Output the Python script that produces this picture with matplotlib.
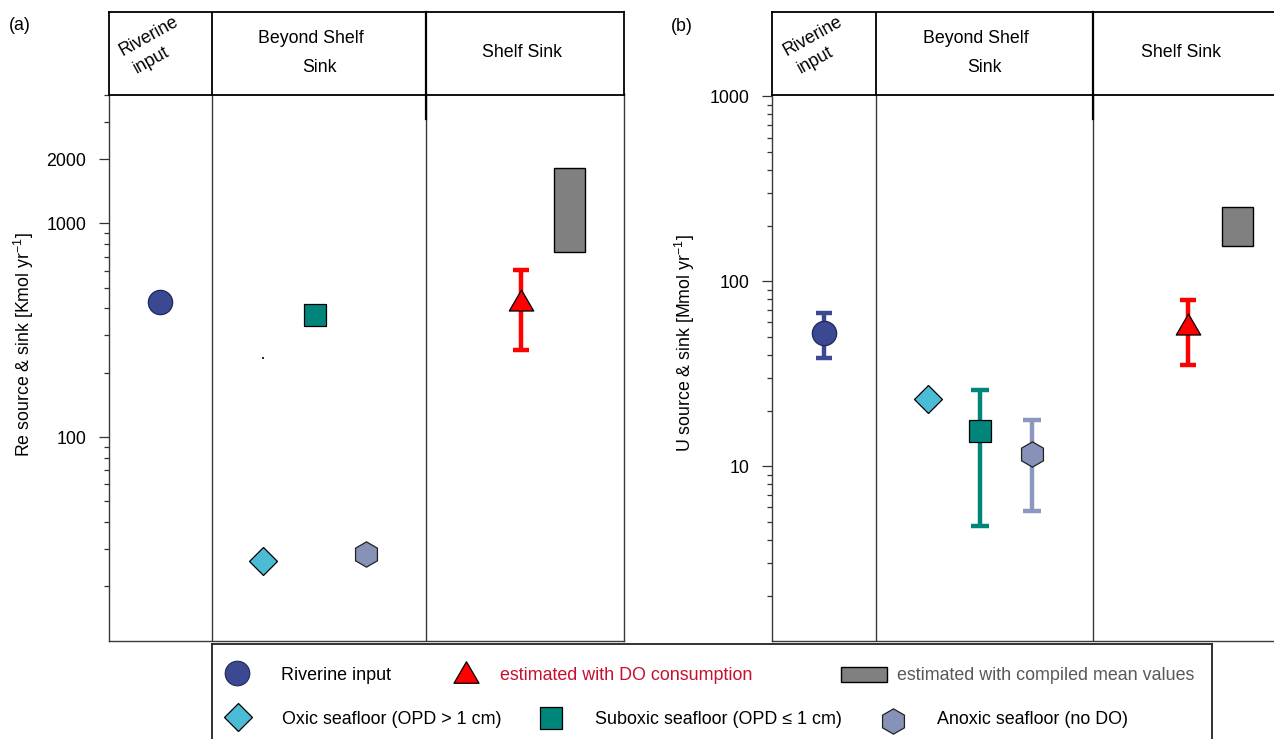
import numpy as np
import matplotlib
matplotlib.use("Agg")
import matplotlib.pyplot as plt
from matplotlib.path import Path
from matplotlib.patches import Rectangle
from matplotlib.ticker import FixedLocator, LogLocator, FuncFormatter, NullFormatter

plt.rcParams['font.family'] = ['Liberation Sans', 'DejaVu Sans']
plt.rcParams['mathtext.default'] = 'regular'
plt.rcParams['font.size'] = 12.8

# ---------------- data ----------------
column_titles = ["Riverine", "input", "Beyond Shelf", "Sink", "Shelf Sink"]
series_names = ["Riverine input", "Oxic seafloor (OPD > 1 cm)",
                "Suboxic seafloor (OPD \u2264 1 cm)", "Anoxic seafloor (no DO)"]
do_name = "estimated with DO consumption"
mean_name = "estimated with compiled mean values"

# Re budget, Kmol/yr (riverine, oxic, suboxic, anoxic)
re_points = [430, 26.2, 372, 28.2]
re_ranges = [None, None, None, None]
re_do = 440
re_do_range = [255, 604]
re_mean_range = [734, 1817]
re_oxic_trace = [231, 238]
re_major_ticks = [10, 100, 1000, 2000]
re_ylim = [11.15, 4015]

# U budget, Mmol/yr (riverine, oxic, suboxic, anoxic)
u_points = [52.9, 23.0, 15.5, 11.7]
u_ranges = [[38.3, 67.6], None, [4.75, 26.0], [5.71, 17.7]]
u_do = 59.2
u_do_range = [35.2, 79.1]
u_mean_range = [155, 252]
u_major_ticks = [1, 10, 100, 1000]
u_ylim = [1.143, 1025]

# ---------------- styling ----------------
point_x = [1, 3, 4, 5]
do_x = 8
mean_x = 8.95
mean_width = 0.6
dividers = [2, 6.17]

colors = ['#3b4993', '#4bbcd5', '#00857b', '#8792b8']
err_colors = ['#3b4993', None, '#00857b', '#8c97c0']
edge_colors = ['#1f2758', 'black', 'black', '#222222']
markers = ['o', 'D', 's', 'h']
sizes = [17.5, 14.5, 15.8, 18.2]
capsizes = [5.5, 0, 6.5, 6.5]
red = '#ff0000'
crimson = '#c8102e'
grey_fill = '#808080'
tri = Path([(0, 0.43), (-0.5, -0.43), (0.5, -0.43), (0, 0.43)],
           [Path.MOVETO, Path.LINETO, Path.LINETO, Path.CLOSEPOLY])

W, H = 1274, 739
fig = plt.figure(figsize=(W / 100, H / 100), dpi=100)

data_bottom = (H - 640.5) / H
data_top = (H - 94.5) / H
head_top = (H - 11.7) / H


def make_panel(left_px, width_px):
    ax = fig.add_axes([left_px / W, data_bottom, width_px / W, data_top - data_bottom])
    hd = fig.add_axes([left_px / W, data_top, width_px / W, head_top - data_top])
    return ax, hd


def draw_panel(ax, hd, points, ranges, do_val, do_range, mean_range,
               ylim, major_ticks, ylabel, label_xy, shelf_title_x):
    ax.set_yscale('log')
    ax.set_xlim(0, 10)
    ax.set_ylim(*ylim)
    ax.set_xticks([])
    ax.yaxis.set_major_locator(FixedLocator(major_ticks))
    ax.yaxis.set_major_formatter(FuncFormatter(lambda v, p: f"{v:g}"))
    ax.yaxis.set_minor_locator(LogLocator(base=10, subs=np.arange(2, 10)))
    ax.yaxis.set_minor_formatter(NullFormatter())
    ax.tick_params(axis='y', which='major', direction='out', length=7,
                   width=0.9, pad=9, labelsize=12.8, color='#333333')
    ax.tick_params(axis='y', which='minor', direction='out', length=3.5,
                   width=0.9, color='#333333')
    for s in ax.spines.values():
        s.set_color('#3a3a3a')
        s.set_linewidth(1.0)
    for d in dividers:
        ax.axvline(d, color='#3a3a3a', lw=1.0, zorder=1)

    ax.set_ylabel(ylabel, fontsize=12.8)
    ax.yaxis.set_label_coords(*label_xy)
    ax.yaxis.label.set_verticalalignment('center')

    for i in range(len(points)):
        if ranges[i] is not None:
            lo, hi = ranges[i]
            ax.errorbar(point_x[i], points[i],
                        yerr=[[points[i] - lo], [hi - points[i]]],
                        fmt='none', ecolor=err_colors[i], elinewidth=3.2,
                        capsize=capsizes[i], capthick=3.2, zorder=2)
        ax.plot(point_x[i], points[i], marker=markers[i], ms=sizes[i],
                mfc=colors[i], mec=edge_colors[i], mew=0.9, ls='none', zorder=3)

    lo, hi = do_range
    ax.errorbar(do_x, do_val, yerr=[[do_val - lo], [hi - do_val]], fmt='none',
                ecolor=red, elinewidth=3.2, capsize=5.5, capthick=3.2, zorder=2)
    ax.plot(do_x, do_val, marker=tri, ms=17.6, mfc=red, mec='black',
            mew=0.9, ls='none', zorder=3)

    ax.bar(mean_x, mean_range[1] - mean_range[0], bottom=mean_range[0],
           width=mean_width, color=grey_fill, edgecolor='black', lw=1.0, zorder=3)

    # header row
    hd.set_xlim(0, 10)
    hd.set_ylim(0, 1)
    hd.set_xticks([])
    hd.set_yticks([])
    for s in hd.spines.values():
        s.set_color('black')
        s.set_linewidth(1.3)
    hd.plot([dividers[0], dividers[0]], [0, 1], color='black', lw=1.3)
    hd.plot([dividers[1], dividers[1]], [-0.3, 1], color='black', lw=1.6,
            clip_on=False, zorder=5)
    hd.text(0.79, 0.70, column_titles[0], rotation=29, ha='center', va='center',
            fontsize=12.8)
    hd.text(0.83, 0.415, column_titles[1], rotation=29, ha='center', va='center',
            fontsize=12.8)
    hd.text(3.93, 0.682, column_titles[2], ha='center', va='center', fontsize=12.8)
    hd.text(4.09, 0.33, column_titles[3], ha='center', va='center', fontsize=12.8)
    hd.text(shelf_title_x, 0.512, column_titles[4], ha='center', va='center',
            fontsize=12.8)


ax_a, hd_a = make_panel(108.5, 515)
draw_panel(ax_a, hd_a, re_points, re_ranges, re_do, re_do_range, re_mean_range,
           re_ylim, re_major_ticks, 'Re source & sink [Kmol yr$^{-1}$]',
           (-0.164, 0.541), 8.03)
ax_a.vlines(point_x[1], re_oxic_trace[0], re_oxic_trace[1], color='black', lw=1.2)

ax_b, hd_b = make_panel(772, 520)
draw_panel(ax_b, hd_b, u_points, u_ranges, u_do, u_do_range, u_mean_range,
           u_ylim, u_major_ticks, 'U source & sink [Mmol yr$^{-1}$]',
           (-0.167, 0.545), 7.87)

fig.text(20 / W, (H - 26) / H, '(a)', ha='center', va='center', fontsize=12.8)
fig.text(682 / W, (H - 26.5) / H, '(b)', ha='center', va='center', fontsize=12.8)

# ---------------- legend box ----------------
leg_bottom = -0.05
leg = fig.add_axes([212 / W, leg_bottom, 1000 / W, (H - 644) / H - leg_bottom])
leg.set_xlim(212, 1212)
leg.set_ylim(H - leg_bottom * H, 644)
leg.set_xticks([])
leg.set_yticks([])
for s in leg.spines.values():
    s.set_color('#222222')
    s.set_linewidth(1.3)

leg.plot(236.5, 673, marker='o', ms=17.7, mfc=colors[0], mec=edge_colors[0], mew=0.8)
leg.text(281, 675, series_names[0], va='center', ha='left', fontsize=12.9)
leg.plot(466, 671.5, marker=tri, ms=18, mfc=red, mec='black', mew=0.9)
leg.text(500, 675, do_name, va='center', ha='left', fontsize=12.9, color=crimson)
leg.add_patch(Rectangle((840.7, 667.3), 46, 15, facecolor=grey_fill,
                        edgecolor='black', lw=1.0))
leg.text(897, 675, mean_name, va='center', ha='left', fontsize=12.9, color='#595959')

leg.plot(238.3, 717.3, marker='D', ms=14.5, mfc=colors[1], mec='black', mew=0.9)
leg.text(282, 719, series_names[1], va='center', ha='left', fontsize=12.9)
leg.plot(550.7, 718.4, marker='s', ms=15.8, mfc=colors[2], mec='black', mew=0.9)
leg.text(595, 719, series_names[2], va='center', ha='left', fontsize=12.9)
leg.plot(893.3, 720.5, marker='h', ms=18.2, mfc=colors[3], mec='#222222', mew=0.9)
leg.text(937, 719, series_names[3], va='center', ha='left', fontsize=12.9)

fig.savefig('out.png', dpi=100)
